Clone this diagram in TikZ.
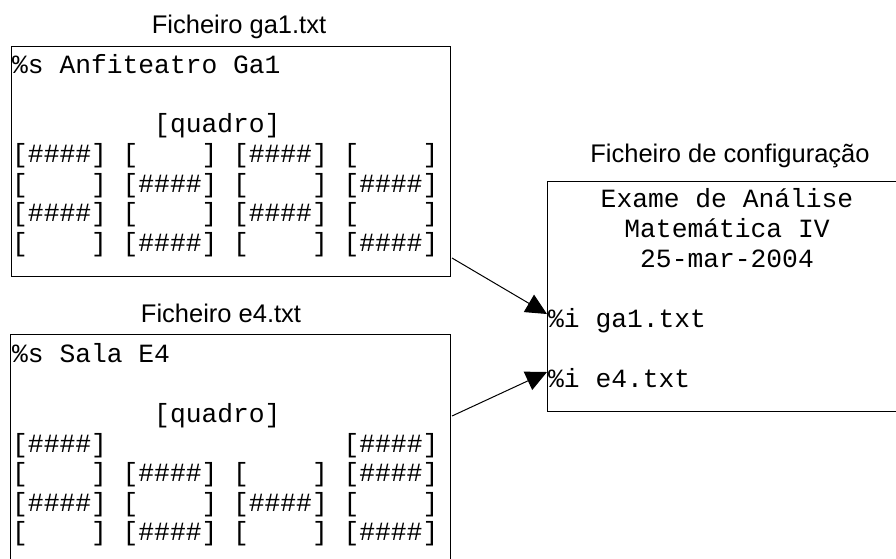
\documentclass[tikz,border=0pt]{standalone}
\usepackage{fontspec}
\setmainfont{Liberation Sans}
\newfontfamily\codefont{Liberation Mono}
\usetikzlibrary{arrows.meta,calc}
\begin{document}
\begin{tikzpicture}[x=1pt,y=-1pt,
  filebox/.style={draw=black,line width=1pt,inner sep=0pt,anchor=north west},
  code/.style={inner sep=0pt,anchor=base west,font=\codefont\fontsize{26.3}{30}\selectfont},
  ccode/.style={inner sep=0pt,anchor=base,font=\codefont\fontsize{26.3}{30}\selectfont},
  caption/.style={inner sep=0pt,anchor=base,font=\fontsize{25.5}{30}\selectfont},
  arr/.style={line width=1pt,-{Triangle[length=21pt,width=20pt]}}]
\useasboundingbox (0,0) rectangle (896,558);
\clip (0,0) rectangle (896,558);

% captions
\node[caption] (cap1) at (239,33) {Ficheiro ga1.txt};
\node[caption] (cap2) at (221,322) {Ficheiro e4.txt};
\node[caption] (cap3) at (730,162) {Ficheiro de configuração};

% boxes
\node[filebox,minimum width=439.5pt,minimum height=230pt] (ga1) at (10.5,46) {};
\node[filebox,minimum width=440.5pt,minimum height=240pt] (e4) at (9.5,334) {};
\node[filebox,minimum width=380pt,minimum height=230pt] (cfg) at (547,181) {};

% ga1.txt contents
\node[code] (g0) at (12,73) {\%s Anfiteatro Ga1};
\node[code] (g1) at (12,132) {\ \ \ \ \ \ \ \ \ [quadro]};
\node[code] (g2) at (12,162) {[\#\#\#\#] [\ \ \ \ ] [\#\#\#\#] [\ \ \ \ ]};
\node[code] (g3) at (12,192) {[\ \ \ \ ] [\#\#\#\#] [\ \ \ \ ] [\#\#\#\#]};
\node[code] (g4) at (12,221) {[\#\#\#\#] [\ \ \ \ ] [\#\#\#\#] [\ \ \ \ ]};
\node[code] (g5) at (12,251) {[\ \ \ \ ] [\#\#\#\#] [\ \ \ \ ] [\#\#\#\#]};

% e4.txt contents
\node[code] (e0) at (12,362) {\%s Sala E4};
\node[code] (e1) at (12,422) {\ \ \ \ \ \ \ \ \ [quadro]};
\node[code] (e2) at (12,452) {[\#\#\#\#]\ \ \ \ \ \ \ \ \ \ \ \ \ \ \ [\#\#\#\#]};
\node[code] (e3) at (12,481) {[\ \ \ \ ] [\#\#\#\#] [\ \ \ \ ] [\#\#\#\#]};
\node[code] (e4l) at (12,511) {[\#\#\#\#] [\ \ \ \ ] [\#\#\#\#] [\ \ \ \ ]};
\node[code] (e5) at (12,540) {[\ \ \ \ ] [\#\#\#\#] [\ \ \ \ ] [\#\#\#\#]};

% configuration contents
\node[ccode] (c0) at (727,207) {Exame de Análise};
\node[ccode] (c1) at (727,237) {Matemática IV};
\node[ccode] (c2) at (727,267) {25-mar-2004};
\node[code] (c3) at (548,327) {\%i ga1.txt};
\node[code] (c4) at (548,387) {\%i e4.txt};

% connectors
\draw[arr] ($(ga1.south east)+(1,-19)$) -- ($(cfg.north west)+(0,133)$);
\draw[arr] ($(e4.north east)+(1,82)$) -- ($(cfg.north west)+(0,191)$);
\end{tikzpicture}
\end{document}
